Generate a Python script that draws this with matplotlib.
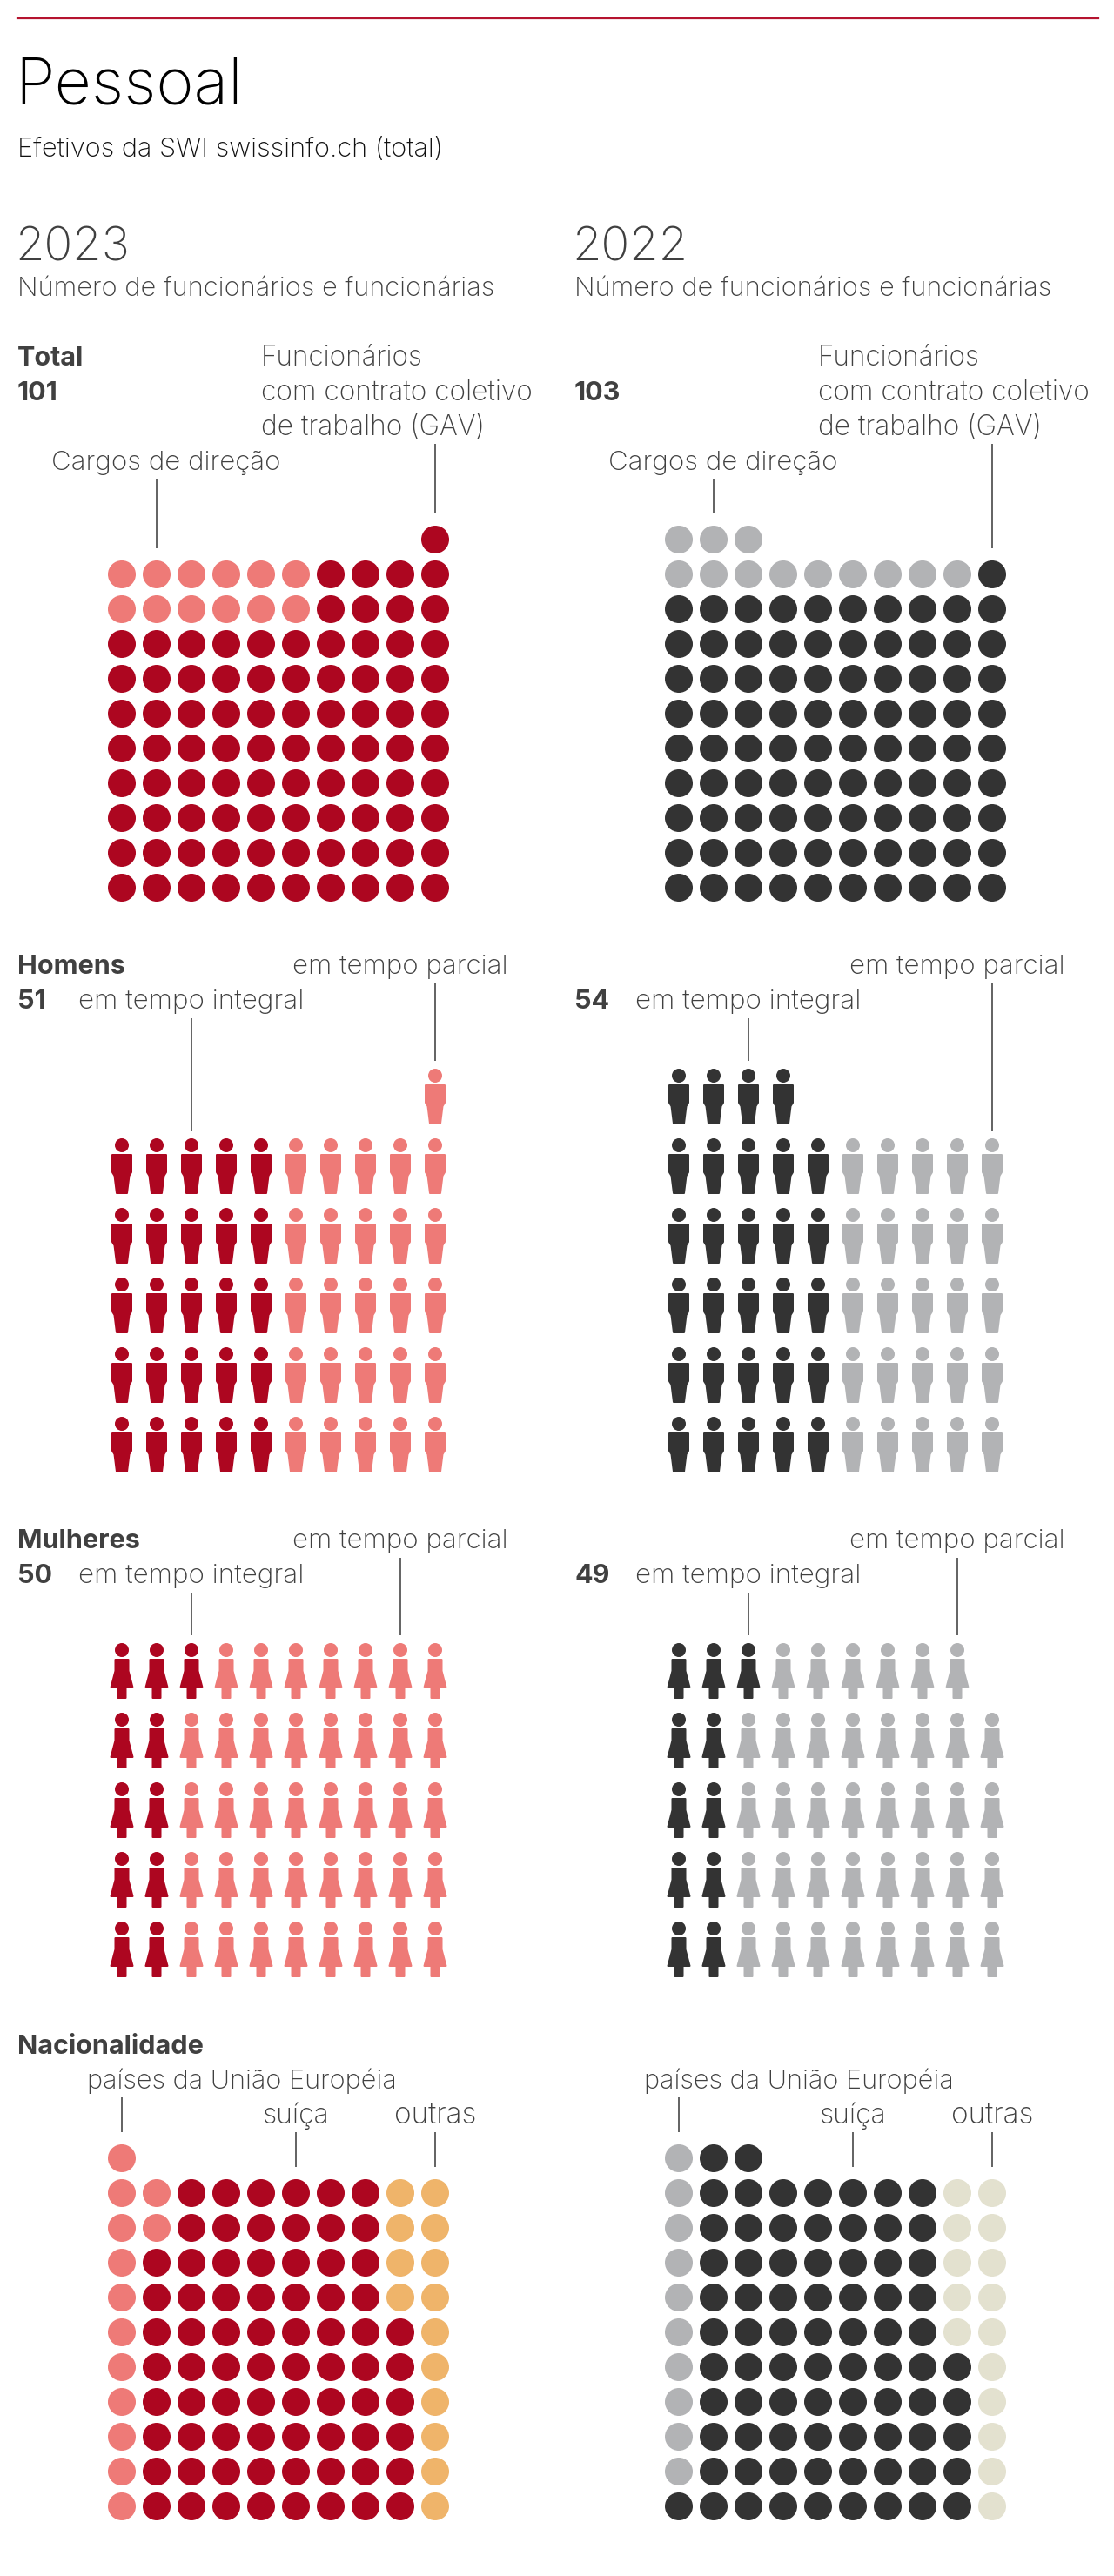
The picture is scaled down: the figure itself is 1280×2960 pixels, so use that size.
import matplotlib
matplotlib.use('Agg')
import matplotlib.pyplot as plt
from matplotlib.patches import Circle, Polygon

plt.rcParams['font.family'] = ['Inter', 'DejaVu Sans']

# one letter per person: a = main colour, b = light colour, c = third colour, . = empty
total_2023 = ['.........a', 'bbbbbbaaaa', 'bbbbbbaaaa'] + ['aaaaaaaaaa'] * 8
total_2022 = ['bbb.......', 'bbbbbbbbba'] + ['aaaaaaaaaa'] * 9
homens_2023 = ['.........b'] + ['aaaaabbbbb'] * 5
homens_2022 = ['aaaa......'] + ['aaaaabbbbb'] * 5
mulheres_2023 = ['aaabbbbbbb'] + ['aabbbbbbbb'] * 4
mulheres_2022 = ['aaabbbbbb.'] + ['aabbbbbbbb'] * 4
nac_2023 = ['b.........', 'bbaaaaaacc', 'bbaaaaaacc', 'baaaaaaacc', 'baaaaaaacc'] + ['baaaaaaaac'] * 6
nac_2022 = ['baa.......'] + ['baaaaaaacc'] * 5 + ['baaaaaaaac'] * 4 + ['aaaaaaaaac']

red_colors = {'a': '#ad0620', 'b': '#ee7a77', 'c': '#efb46a'}
gray_colors = {'a': '#333333', 'b': '#b2b3b5', 'c': '#e3e1cf'}
text_color = '#404040'
line_color = '#666666'

man_shape = [(-11, 19), (11, 19), (11, 39), (8.5, 43), (6, 63), (-6, 63), (-8.5, 43), (-11, 39)]
woman_shape = [(-7.5, 19), (7.5, 19), (7.5, 32), (12.5, 51), (4.5, 51), (4.5, 63),
               (-4.5, 63), (-4.5, 51), (-12.5, 51), (-7.5, 32)]

fig = plt.figure(figsize=(12.8, 29.6), dpi=100)
ax = fig.add_axes([0, 0, 1, 1])
ax.set_xlim(0, 1280)
ax.set_ylim(2960, 0)
ax.axis('off')


def dots(rows, colors, x0, y0):
    for r, row in enumerate(rows):
        for c, key in enumerate(row):
            if key != '.':
                ax.add_patch(Circle((x0 + c * 40, y0 + r * 40), 16, color=colors[key], lw=0))


def people(rows, colors, shape, x0, y0):
    for r, row in enumerate(rows):
        for c, key in enumerate(row):
            if key == '.':
                continue
            x = x0 + c * 40
            y = y0 + r * 80
            ax.add_patch(Circle((x, y + 8), 8, color=colors[key], lw=0))
            pts = [(x + dx, y + dy) for dx, dy in shape]
            ax.add_patch(Polygon(pts, closed=True, facecolor=colors[key], edgecolor=colors[key],
                                 lw=1.44, joinstyle='round'))


def label(x, y, s, size=22, weight='light', color=text_color, ha='left'):
    ax.text(x, y, s, fontsize=size, fontweight=weight, color=color, ha=ha, va='baseline')


def leader(x, y1, y2):
    ax.plot([x, x], [y1, y2], color=line_color, lw=1.44, solid_capstyle='butt')


ax.plot([20, 1262], [20.5, 20.5], color='#b5142f', lw=1.6)
label(17, 120, 'Pessoal', size=53, color='#000000')
label(20, 180, 'Efetivos da SWI swissinfo.ch (total)', size=22.1, color='#111111')

for off, year in [(0, '2023'), (640, '2022')]:
    label(17 + off, 300, year, size=39)
    label(20 + off, 340.5, 'Número de funcionários e funcionárias', size=22.15)
    label(300 + off, 420, 'Funcionários', size=22.7)
    label(300 + off, 460, 'com contrato coletivo', size=22.8)
    label(300 + off, 500, 'de trabalho (GAV)', size=22.8)
    label(190.5 + off, 540, 'Cargos de direção', size=22.5, ha='center')
    label(460 + off, 1119, 'em tempo parcial', size=22.5, ha='center')
    label(220 + off, 1159, 'em tempo integral', size=22.6, ha='center')
    label(460 + off, 1779, 'em tempo parcial', size=22.5, ha='center')
    label(220 + off, 1819, 'em tempo integral', size=22.6, ha='center')
    label(278 + off, 2400, 'países da União Européia', size=22.1, ha='center')
    label(340 + off, 2440, 'suíça', size=23, ha='center')
    label(500 + off, 2440, 'outras', size=24, ha='center')

label(20, 420, 'Total', weight='bold')
label(20, 460, '101', weight='bold')
label(660, 460, '103', weight='bold')
label(20, 1119, 'Homens', weight='bold')
label(20, 1159, '51', weight='bold')
label(660, 1159, '54', weight='bold')
label(20, 1779, 'Mulheres', weight='bold')
label(20, 1819, '50', weight='bold')
label(660, 1819, '49', weight='bold')
label(20, 2359.5, 'Nacionalidade', weight='bold')

dots(total_2023, red_colors, 140, 620)
dots(total_2022, gray_colors, 780, 620)
people(homens_2023, red_colors, man_shape, 140, 1228)
people(homens_2022, gray_colors, man_shape, 780, 1228)
people(mulheres_2023, red_colors, woman_shape, 140, 1888)
people(mulheres_2022, gray_colors, woman_shape, 780, 1888)
dots(nac_2023, red_colors, 140, 2480)
dots(nac_2022, gray_colors, 780, 2480)

# leader lines
leader(180, 550, 630)
leader(500, 510, 590)
leader(820, 550, 590)
leader(1140, 510, 630)
leader(220, 1170, 1300)
leader(500, 1130, 1219)
leader(860, 1170, 1219)
leader(1140, 1130, 1300)
leader(220, 1830, 1879)
leader(460, 1790, 1879)
leader(860, 1830, 1879)
leader(1100, 1790, 1879)
for off in [0, 640]:
    leader(140 + off, 2410, 2450)
    leader(340 + off, 2450, 2490)
    leader(500 + off, 2450, 2490)

fig.savefig('out.png', dpi=100, facecolor='white')
